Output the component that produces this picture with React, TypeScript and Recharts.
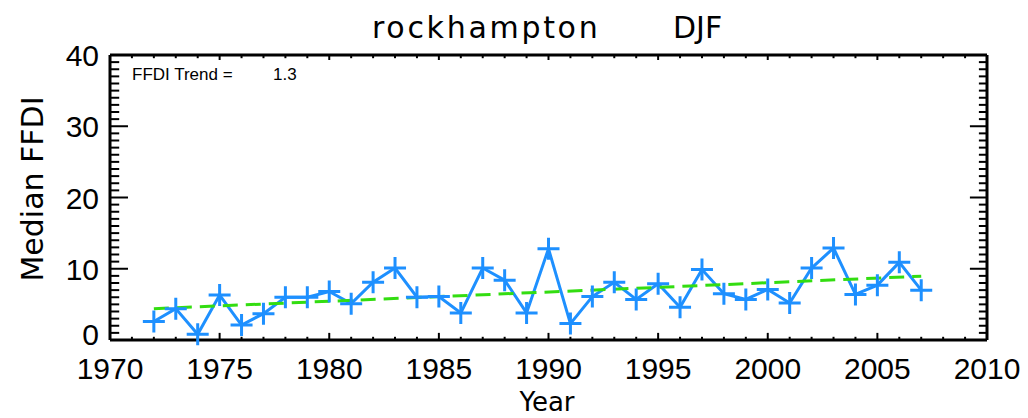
import React from "react";
import { LineChart, Line, XAxis, YAxis, ReferenceLine } from "recharts";

const years = [
  1972, 1973, 1974, 1975, 1976, 1977, 1978, 1979, 1980, 1981, 1982, 1983,
  1984, 1985, 1986, 1987, 1988, 1989, 1990, 1991, 1992, 1993, 1994, 1995,
  1996, 1997, 1998, 1999, 2000, 2001, 2002, 2003, 2004, 2005, 2006, 2007,
];
const medianFfdi = [
  2.6, 4.4, 0.8, 6.3, 2.1, 3.7, 6.0, 6.0, 6.8, 5.1, 8.1, 10.1,
  6.0, 6.1, 3.8, 10.1, 8.4, 3.8, 12.8, 2.3, 6.1, 8.1, 5.7, 7.9,
  4.6, 9.9, 6.5, 5.7, 7.1, 5.2, 10.1, 12.9, 6.4, 7.7, 10.9, 7.0,
];
const trendYears = [1972, 2007];
const trendValues = [4.4, 8.95];

const xMajorTicks = [1970, 1975, 1980, 1985, 1990, 1995, 2000, 2005, 2010];
const yMajorTicks = [0, 10, 20, 30, 40];
const xMinorTicks = Array.from({ length: 41 }, (_, i) => 1970 + i);
const yMinorTicks = Array.from({ length: 41 }, (_, i) => i);

const data = years.map((year, i) => ({ year, ffdi: medianFfdi[i] }));
const trendData = trendYears.map((year, i) => ({ year, trend: trendValues[i] }));

const X0 = 1970;
const X1 = 2010;
const Y0 = 0;
const Y1 = 40;

const BLUE = "#1e90ff";
const GREEN = "#33dd11";
const LABEL_FONT = "'Liberation Sans', Arial, sans-serif";
const TITLE_FONT = "'DejaVu Sans', sans-serif";
const frame = { stroke: "#000", strokeWidth: 3 };

const XLabel = (props: any) => {
  const { x, y, payload } = props;
  return (
    <text x={x} y={y + 39} textAnchor="middle" fontSize={30} fontFamily={LABEL_FONT} fill="#000">
      {payload.value}
    </text>
  );
};

const YLabel = (props: any) => {
  const { x, y, payload } = props;
  const dy = payload.value === 0 ? 5 : 11;
  return (
    <text x={x - 11} y={y + dy} textAnchor="end" fontSize={30} fontFamily={LABEL_FONT} fill="#000">
      {payload.value}
    </text>
  );
};

const renderPlus = (props: any) => {
  const { cx, cy, index } = props;
  return (
    <path
      key={`plus-${index}`}
      d={`M${cx - 11},${cy}h22M${cx},${cy - 11}v22`}
      stroke={BLUE}
      strokeWidth={3}
      fill="none"
    />
  );
};

// inward IDL-style tick marks, lengths in axis units
const tickSeg = (key: string, a: { x: number; y: number }, b: { x: number; y: number }) => (
  <ReferenceLine
    key={key}
    xAxisId="bottom"
    yAxisId="left"
    segment={[a, b]}
    stroke="#000"
    strokeWidth={2}
    ifOverflow="visible"
  />
);

const tickMarks = [
  ...xMinorTicks.map((t) => {
    const major = xMajorTicks.includes(t);
    return [
      tickSeg(`b${t}`, { x: t, y: Y0 }, { x: t, y: Y0 + (major ? 1.0 : 0.45) }),
      tickSeg(`t${t}`, { x: t, y: Y1 }, { x: t, y: Y1 - (major ? 0.7 : 0.45) }),
    ];
  }),
  ...yMinorTicks.map((t) => {
    const major = yMajorTicks.includes(t);
    return [
      tickSeg(`l${t}`, { x: X0, y: t }, { x: X0 + (major ? 0.82 : 0.42), y: t }),
      tickSeg(`r${t}`, { x: X1, y: t }, { x: X1 - (major ? 0.78 : 0.37), y: t }),
    ];
  }),
].flat();

export default function App() {
  return (
    <div style={{ position: "absolute", left: 0, top: 0, width: 1028, height: 418, background: "#fff" }}>
      <LineChart
        width={1028}
        height={418}
        data={data}
        margin={{ top: 55, right: 40, bottom: 77, left: 109 }}
      >
        <XAxis
          xAxisId="bottom"
          dataKey="year"
          type="number"
          domain={[X0, X1]}
          ticks={xMajorTicks}
          interval={0}
          height={1}
          tickSize={0}
          tickMargin={0}
          tickLine={false}
          axisLine={frame}
          tick={<XLabel />}
        />
        <YAxis
          yAxisId="left"
          type="number"
          domain={[Y0, Y1]}
          ticks={yMajorTicks}
          interval={0}
          width={1}
          tickSize={0}
          tickMargin={0}
          tickLine={false}
          axisLine={frame}
          tick={<YLabel />}
        />
        <YAxis
          yAxisId="right"
          orientation="right"
          type="number"
          domain={[Y0, Y1]}
          ticks={yMajorTicks}
          width={1}
          tickLine={false}
          tick={false}
          axisLine={frame}
        />
        <ReferenceLine xAxisId="bottom" yAxisId="left" y={Y1} stroke="#000" strokeWidth={3} />
        {tickMarks}
        <Line
          xAxisId="bottom"
          yAxisId="left"
          dataKey="ffdi"
          stroke={BLUE}
          strokeWidth={3}
          dot={renderPlus}
          activeDot={false}
          isAnimationActive={false}
        />
        <Line
          xAxisId="bottom"
          yAxisId="left"
          data={trendData}
          dataKey="trend"
          stroke={GREEN}
          strokeWidth={3}
          strokeDasharray="15 8"
          dot={false}
          activeDot={false}
          isAnimationActive={false}
        />
      </LineChart>
      <svg
        width={1028}
        height={418}
        style={{ position: "absolute", left: 0, top: 0, pointerEvents: "none" }}
      >
        <text x={372} y={38} fontSize={30} fontFamily={TITLE_FONT} letterSpacing={2.7} fill="#000">
          rockhampton
        </text>
        <text x={673} y={38} fontSize={30} fontFamily={TITLE_FONT} fill="#000">
          DJF
        </text>
        <text x={132} y={80} fontSize={17} fontFamily={LABEL_FONT} fill="#000">
          FFDI Trend =
        </text>
        <text x={273} y={80} fontSize={17} fontFamily={LABEL_FONT} fill="#000">
          1.3
        </text>
        <text x={547} y={411} textAnchor="middle" fontSize={26} fontFamily={TITLE_FONT} fill="#000">
          Year
        </text>
        <text
          x={43}
          y={189}
          textAnchor="middle"
          fontSize={30}
          fontFamily={TITLE_FONT}
          fill="#000"
          transform="rotate(-90, 43, 189)"
        >
          Median FFDI
        </text>
      </svg>
    </div>
  );
}
